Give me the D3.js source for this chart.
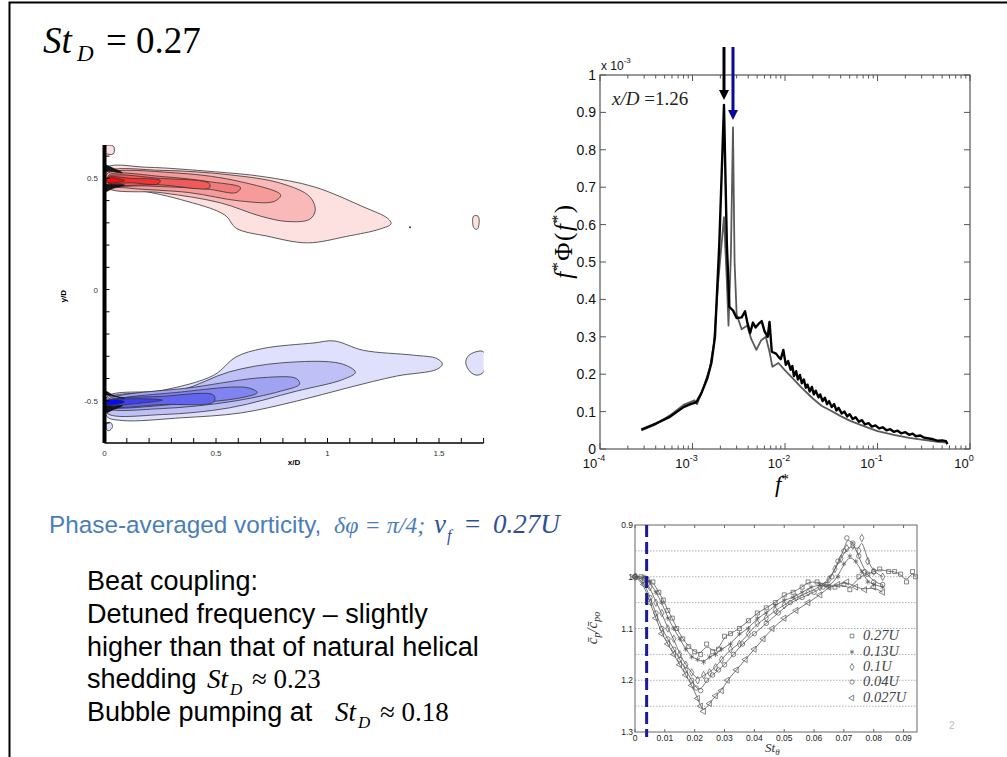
<!DOCTYPE html>
<html>
<head>
<meta charset="utf-8">
<script src="https://cdn.jsdelivr.net/npm/d3@7"></script>
<style>
body { margin: 0; background: #fff; }
svg { display: block; }
</style>
</head>
<body>
<svg id="slide" width="1007" height="757"></svg>
<script>
// ---------- dati: contorni di vorticità (x/D, y/D) ----------
const redLevels = [
  [[0.01,0.548],[0.19,0.55],[0.49,0.53],[0.71,0.508],[0.94,0.462],[1.16,0.372],[1.27,0.32],[1.285,0.296],[1.235,0.272],[1.09,0.24],[0.91,0.21],[0.73,0.24],[0.59,0.276],[0.54,0.335],[0.34,0.405],[0.11,0.455],[0.01,0.47]],
  [[0.01,0.528],[0.26,0.536],[0.56,0.516],[0.79,0.478],[0.92,0.418],[0.945,0.356],[0.92,0.316],[0.82,0.306],[0.70,0.33],[0.52,0.39],[0.26,0.435],[0.01,0.46]],
  [[0.01,0.52],[0.34,0.523],[0.61,0.485],[0.79,0.425],[0.76,0.396],[0.61,0.398],[0.38,0.436],[0.11,0.456],[0.01,0.472]],
  [[0.02,0.515],[0.26,0.508],[0.47,0.485],[0.61,0.458],[0.59,0.436],[0.46,0.452],[0.19,0.466],[0.02,0.474]],
  [[0.02,0.508],[0.25,0.5],[0.47,0.477],[0.47,0.457],[0.25,0.471],[0.02,0.478]],
  [[0.02,0.504],[0.12,0.5],[0.25,0.49],[0.24,0.475],[0.12,0.48],[0.02,0.481]],
  [[0.01,0.502],[0.06,0.499],[0.09,0.49],[0.06,0.482],[0.01,0.483]]
];
const blueLevels = [
  [[0.01,-0.483],[0.26,-0.453],[0.49,-0.385],[0.59,-0.303],[0.71,-0.265],[0.94,-0.24],[1.03,-0.231],[1.16,-0.273],[1.385,-0.295],[1.49,-0.31],[1.515,-0.335],[1.49,-0.359],[1.31,-0.389],[1.09,-0.442],[0.86,-0.502],[0.61,-0.555],[0.34,-0.577],[0.08,-0.589],[0.01,-0.57]],
  [[0.01,-0.49],[0.34,-0.453],[0.56,-0.37],[0.79,-0.33],[1.06,-0.333],[1.125,-0.372],[1.07,-0.404],[0.86,-0.457],[0.56,-0.532],[0.26,-0.562],[0.01,-0.555]],
  [[0.01,-0.498],[0.41,-0.438],[0.71,-0.396],[0.86,-0.4],[0.875,-0.425],[0.79,-0.457],[0.56,-0.505],[0.26,-0.535],[0.01,-0.532]],
  [[0.01,-0.507],[0.34,-0.461],[0.64,-0.441],[0.685,-0.463],[0.61,-0.487],[0.34,-0.514],[0.01,-0.526]],
  [[0.01,-0.502],[0.26,-0.48],[0.49,-0.475],[0.49,-0.505],[0.26,-0.517],[0.01,-0.524]],
  [[0.01,-0.502],[0.12,-0.491],[0.26,-0.497],[0.12,-0.515],[0.01,-0.521]],
  [[0.01,-0.502],[0.06,-0.495],[0.09,-0.505],[0.06,-0.516],[0.01,-0.517]]
];
const redColors = ["#fde0e0", "#f9b9b9", "#f69a9a", "#f37a7a", "#f05a5a", "#f53232", "#ff0808"];
const blueColors = ["#dfe0fb", "#bfc1f6", "#a0a2f2", "#8183f0", "#6265ee", "#3e41f2", "#0808ff"];
// piccole isole
const redIslands = [[[1.655,0.33],[1.675,0.33],[1.68,0.3],[1.67,0.27],[1.655,0.28]], [[0.0,0.645],[0.04,0.645],[0.04,0.61],[0.0,0.615]]];
const blueIslands = [[[1.7,-0.28],[1.665,-0.28],[1.63,-0.3],[1.62,-0.33],[1.64,-0.37],[1.67,-0.385],[1.7,-0.37]], [[0.01,-0.6],[0.03,-0.6],[0.035,-0.62],[0.02,-0.635],[0.01,-0.63]]];
const darkRoots = [
  [[0,0.56],[0.04,0.545],[0.08,0.525],[0.04,0.53],[0,0.535]],
  [[0,0.47],[0.04,0.472],[0.09,0.47],[0.04,0.455],[0,0.44]],
  [[0,-0.47],[0.04,-0.48],[0.09,-0.49],[0.04,-0.475],[0,-0.455]],
  [[0,-0.525],[0.04,-0.525],[0.08,-0.522],[0.04,-0.54],[0,-0.555]]
];
const contourXTicks = [0, 0.5, 1, 1.5];
const contourYTicks = [0.5, 0, -0.5];

// ---------- dati: spettro ----------
const specBlackF = [2.8e-4,4e-4,5.7e-4,8e-4,9.5e-4,1.1e-3,1.25e-3,1.45e-3,1.6e-3,1.75e-3,1.95e-3,2.19e-3,2.35e-3,2.5e-3,2.75e-3,3.0e-3,3.4e-3,3.7e-3,3.9e-3,4.2e-3,4.5e-3,4.8e-3,5.2e-3,5.6e-3,6.0e-3,6.5e-3,6.8e-3,7.2e-3,8e-3,8.6e-3,9e-3,9.6e-3,1.02e-2,1.08e-2,1.15e-2,1.2e-2,1.25e-2,1.32e-2,1.38e-2,1.45e-2,1.52e-2,1.6e-2,1.68e-2,1.75e-2,1.85e-2,1.95e-2,2.05e-2,2.15e-2,2.3e-2,2.4e-2,2.55e-2,2.7e-2,2.85e-2,3.0e-2,3.2e-2,3.4e-2,3.6e-2,3.8e-2,4.1e-2,4.4e-2,4.7e-2,5e-2,5.4e-2,5.8e-2,6.3e-2,6.8e-2,7.3e-2,8e-2,8.7e-2,9.5e-2,0.104,0.114,0.125,0.137,0.15,0.165,0.18,0.2,0.22,0.24,0.26,0.29,0.32,0.36,0.4,0.45,0.5,0.55,0.57];
const specBlackV = [0.052,0.068,0.086,0.112,0.12,0.125,0.15,0.19,0.23,0.30,0.55,0.92,0.55,0.38,0.37,0.35,0.352,0.368,0.34,0.31,0.338,0.325,0.335,0.342,0.315,0.30,0.34,0.26,0.255,0.245,0.24,0.265,0.225,0.235,0.212,0.222,0.195,0.208,0.186,0.198,0.176,0.186,0.164,0.172,0.154,0.166,0.146,0.156,0.138,0.146,0.128,0.137,0.12,0.128,0.112,0.12,0.103,0.11,0.095,0.1,0.087,0.093,0.08,0.085,0.073,0.077,0.066,0.069,0.06,0.063,0.055,0.058,0.05,0.053,0.046,0.049,0.042,0.045,0.038,0.041,0.034,0.036,0.03,0.028,0.026,0.022,0.023,0.021,0.013];
const specGreyF = [2.8e-4,4e-4,5.7e-4,8e-4,1.05e-3,1.12e-3,1.3e-3,1.55e-3,1.7e-3,1.9e-3,2.19e-3,2.35e-3,2.45e-3,2.6e-3,2.74e-3,2.85e-3,3.0e-3,3.4e-3,3.9e-3,4.3e-3,4.9e-3,5.5e-3,6.2e-3,6.8e-3,7.3e-3,8.5e-3,1e-2,1.2e-2,1.5e-2,2e-2,2.5e-2,3e-2,4e-2,5e-2,7e-2,0.1,0.15,0.22,0.3,0.45,0.57];
const specGreyV = [0.05,0.066,0.09,0.118,0.13,0.12,0.16,0.22,0.28,0.45,0.62,0.45,0.33,0.52,0.86,0.50,0.36,0.32,0.33,0.295,0.265,0.29,0.30,0.26,0.22,0.23,0.21,0.19,0.165,0.135,0.115,0.105,0.088,0.076,0.062,0.048,0.038,0.03,0.025,0.019,0.017];
const specYTicks = [0,0.1,0.2,0.3,0.4,0.5,0.6,0.7,0.8,0.9,1];
const specXExp = [-4,-3,-2,-1,0];
const arrowF = [2.19e-3, 2.74e-3];
const arrowTip = [0.933, 0.88];
const arrowColors = ["#000000", "#0a0a9a"];

// ---------- dati: cp/cpo contro St_theta ----------
const seriesNames = ["0.27U", "0.13U", "0.1U", "0.04U", "0.027U"];
const s027 = [[0,1.0],[0.002,1.0],[0.004,1.005],[0.006,1.01],[0.008,1.03],[0.0095,1.045],[0.011,1.065],[0.0125,1.08],[0.014,1.1],[0.016,1.12],[0.018,1.135],[0.02,1.145],[0.022,1.15],[0.024,1.13],[0.026,1.145],[0.028,1.14],[0.03,1.115],[0.032,1.11],[0.035,1.1],[0.038,1.085],[0.041,1.07],[0.044,1.06],[0.047,1.05],[0.05,1.035],[0.053,1.03],[0.056,1.02],[0.058,1.01],[0.061,1.01],[0.064,1.015],[0.067,1.02],[0.07,1.015],[0.072,1.025],[0.075,1.0],[0.078,0.995],[0.08,0.99],[0.082,0.985],[0.085,0.99],[0.087,0.99],[0.089,0.995],[0.091,1.01],[0.093,0.99],[0.094,1.0]];
const s013 = [[0,1.0],[0.003,1.0],[0.005,1.01],[0.007,1.03],[0.009,1.05],[0.011,1.08],[0.013,1.1],[0.015,1.12],[0.017,1.14],[0.019,1.155],[0.021,1.16],[0.023,1.165],[0.025,1.155],[0.027,1.15],[0.029,1.14],[0.032,1.13],[0.035,1.11],[0.038,1.1],[0.041,1.08],[0.044,1.07],[0.047,1.055],[0.05,1.045],[0.053,1.04],[0.056,1.03],[0.059,1.02],[0.062,1.015],[0.065,1.02],[0.068,1.0],[0.07,0.975],[0.072,0.96],[0.074,0.97],[0.076,0.99],[0.078,1.01],[0.08,1.015],[0.083,1.02]];
const s010 = [[0,1.0],[0.003,1.005],[0.005,1.02],[0.007,1.05],[0.009,1.07],[0.011,1.1],[0.013,1.12],[0.015,1.15],[0.017,1.17],[0.019,1.185],[0.021,1.2],[0.023,1.19],[0.025,1.185],[0.027,1.175],[0.029,1.16],[0.032,1.14],[0.035,1.13],[0.038,1.11],[0.041,1.09],[0.044,1.08],[0.047,1.065],[0.05,1.055],[0.054,1.04],[0.058,1.03],[0.062,1.02],[0.065,1.005],[0.067,0.985],[0.069,0.965],[0.071,0.945],[0.073,0.94],[0.075,0.95],[0.076,0.925],[0.078,0.97],[0.08,0.99],[0.083,1.0]];
const s004 = [[0,1.0],[0.003,1.01],[0.005,1.04],[0.007,1.07],[0.009,1.1],[0.011,1.12],[0.013,1.14],[0.015,1.16],[0.017,1.18],[0.019,1.2],[0.0205,1.215],[0.022,1.22],[0.024,1.2],[0.026,1.19],[0.028,1.18],[0.03,1.17],[0.033,1.15],[0.036,1.13],[0.04,1.11],[0.044,1.09],[0.048,1.07],[0.052,1.05],[0.056,1.04],[0.06,1.03],[0.063,1.02],[0.066,1.0],[0.068,0.97],[0.07,0.95],[0.071,0.925],[0.073,0.935],[0.075,0.96],[0.077,0.99],[0.08,1.01],[0.083,1.015]];
const s0027 = [[0,1.0],[0.003,1.015],[0.005,1.05],[0.007,1.08],[0.009,1.11],[0.011,1.13],[0.013,1.15],[0.015,1.17],[0.017,1.19],[0.019,1.21],[0.021,1.235],[0.022,1.25],[0.023,1.26],[0.025,1.245],[0.027,1.23],[0.029,1.22],[0.031,1.2],[0.034,1.18],[0.037,1.16],[0.04,1.14],[0.043,1.12],[0.046,1.1],[0.05,1.08],[0.054,1.065],[0.058,1.05],[0.062,1.035],[0.065,1.02],[0.068,1.015],[0.071,1.01],[0.074,1.02],[0.077,1.025],[0.08,1.02],[0.083,1.03]];
const cpXTicks = [0,0.01,0.02,0.03,0.04,0.05,0.06,0.07,0.08,0.09];
const cpYTicks = [0.9,1,1.1,1.2,1.3];
const cpGrid = [0.95,1.0,1.05,1.1,1.15,1.2,1.25];
const bubbleSt = 0.0039;

const SANS = "Liberation Sans, Arial, sans-serif";
const SERIF = "Liberation Serif, Times New Roman, serif";

const svg = d3.select("#slide");
svg.append("rect").attr("width", 1007).attr("height", 757).attr("fill", "#fff");

// cornice della slide
svg.append("path").attr("d", "M9.5,757 V2.5 H1007").attr("fill", "none")
  .attr("stroke", "#000").attr("stroke-width", 2);

// ---------- titolo ----------
svg.append("text").attr("x", 43).attr("y", 53).attr("font-family", SERIF)
  .attr("font-size", 37).attr("font-style", "italic").text("St");
svg.append("text").attr("x", 77).attr("y", 61).attr("font-family", SERIF)
  .attr("font-size", 23).attr("font-style", "italic").text("D");
svg.append("text").attr("x", 106).attr("y", 53).attr("font-family", SERIF)
  .attr("font-size", 37).text("= 0.27");

// ---------- contorni ----------
const cx = d3.scaleLinear().domain([0, 1.7]).range([104.5, 483.6]);
const cy = d3.scaleLinear().domain([-0.69, 0.65]).range([443, 145]);
svg.append("clipPath").attr("id", "cclip").append("rect")
  .attr("x", cx(0)).attr("y", cy(0.65)).attr("width", cx(1.7) - cx(0)).attr("height", cy(-0.69) - cy(0.65));
const cg = svg.append("g").attr("clip-path", "url(#cclip)");
const closedLine = d3.line().x(d => cx(d[0])).y(d => cy(d[1])).curve(d3.curveCatmullRomClosed.alpha(0.5));

cg.selectAll(".red").data(redLevels).enter().append("path")
  .attr("d", closedLine).attr("fill", (d, i) => redColors[i]).attr("stroke", "#333").attr("stroke-width", 0.8);
cg.selectAll(".blue").data(blueLevels).enter().append("path")
  .attr("d", closedLine).attr("fill", (d, i) => blueColors[i]).attr("stroke", "#333").attr("stroke-width", 0.8);
cg.selectAll(".ri").data(redIslands).enter().append("path")
  .attr("d", closedLine).attr("fill", redColors[0]).attr("stroke", "#333").attr("stroke-width", 0.8);
cg.selectAll(".bi").data(blueIslands).enter().append("path")
  .attr("d", closedLine).attr("fill", blueColors[0]).attr("stroke", "#333").attr("stroke-width", 0.8);
cg.selectAll(".dk").data(darkRoots).enter().append("path")
  .attr("d", closedLine).attr("fill", "#151515").attr("stroke", "#111").attr("stroke-width", 0.6);
cg.append("circle").attr("cx", cx(1.37)).attr("cy", cy(0.28)).attr("r", 1).attr("fill", "#333");

// assi dei contorni
svg.append("line").attr("x1", cx(0)).attr("x2", cx(0)).attr("y1", cy(0.65)).attr("y2", cy(-0.69))
  .attr("stroke", "#000").attr("stroke-width", 4);
svg.append("line").attr("x1", cx(0)).attr("x2", cx(1.7)).attr("y1", cy(-0.69)).attr("y2", cy(-0.69))
  .attr("stroke", "#000").attr("stroke-width", 1.5);
svg.append("g").selectAll("line").data(d3.range(0, 17.5, 1)).enter().append("line")
  .attr("x1", d => cx(d / 10)).attr("x2", d => cx(d / 10))
  .attr("y1", cy(-0.69)).attr("y2", cy(-0.69) - 5).attr("stroke", "#000").attr("stroke-width", 1);
svg.append("g").selectAll("line").data(d3.range(-6, 7, 1)).enter().append("line")
  .attr("x1", cx(0)).attr("x2", cx(0) + 5).attr("y1", d => cy(d / 10)).attr("y2", d => cy(d / 10))
  .attr("stroke", "#000").attr("stroke-width", 1);
svg.append("g").selectAll("text").data(contourXTicks).enter().append("text")
  .attr("x", d => cx(d)).attr("y", 456).attr("text-anchor", "middle")
  .attr("font-family", SANS).attr("font-size", 8).attr("fill", "#333").text(d => d);
svg.append("g").selectAll("text").data(contourYTicks).enter().append("text")
  .attr("x", 98).attr("y", d => cy(d) + 3).attr("text-anchor", "end")
  .attr("font-family", SANS).attr("font-size", 8).attr("fill", "#333").text(d => d);
svg.append("text").attr("x", cx(0.85)).attr("y", 465).attr("text-anchor", "middle")
  .attr("font-family", SANS).attr("font-size", 8).attr("font-weight", "bold").text("x/D");
svg.append("text").attr("transform", `translate(66,${cy(-0.03)}) rotate(-90)`).attr("text-anchor", "middle")
  .attr("font-family", SANS).attr("font-size", 8).attr("font-weight", "bold").text("y/D");

// ---------- spettro ----------
const sx = d3.scaleLog().domain([1e-4, 1]).range([600, 970]);
const sy = d3.scaleLinear().domain([0, 1]).range([449, 75]);
const sg = svg.append("g");

const specLine = d3.line().x(d => sx(d[0])).y(d => sy(d[1]));
sg.append("path").datum(d3.zip(specGreyF, specGreyV)).attr("d", specLine)
  .attr("fill", "none").attr("stroke", "#5a5a5a").attr("stroke-width", 1.8).attr("stroke-linejoin", "round");
sg.append("path").datum(d3.zip(specBlackF, specBlackV)).attr("d", specLine)
  .attr("fill", "none").attr("stroke", "#000").attr("stroke-width", 2.4).attr("stroke-linejoin", "round");

sg.append("rect").attr("x", sx(1e-4)).attr("y", sy(1)).attr("width", sx(1) - sx(1e-4)).attr("height", sy(0) - sy(1))
  .attr("fill", "none").attr("stroke", "#555").attr("stroke-width", 1.2);

// tacche log
const minorF = [];
[-4, -3, -2, -1].forEach(k => { for (let m = 2; m <= 9; m++) minorF.push(m * Math.pow(10, k)); });
const majorF = specXExp.map(e => Math.pow(10, e));
[[minorF, 3.5], [majorF, 6]].forEach(([arr, len]) => {
  sg.append("g").selectAll("line").data(arr).enter().append("line")
    .attr("x1", d => sx(d)).attr("x2", d => sx(d)).attr("y1", sy(0)).attr("y2", sy(0) - len)
    .attr("stroke", "#555");
  sg.append("g").selectAll("line").data(arr).enter().append("line")
    .attr("x1", d => sx(d)).attr("x2", d => sx(d)).attr("y1", sy(1)).attr("y2", sy(1) + len)
    .attr("stroke", "#555");
});
sg.append("g").selectAll("line").data(specYTicks).enter().append("line")
  .attr("x1", sx(1e-4)).attr("x2", sx(1e-4) + 6).attr("y1", d => sy(d)).attr("y2", d => sy(d)).attr("stroke", "#555");
sg.append("g").selectAll("line").data(specYTicks).enter().append("line")
  .attr("x1", sx(1)).attr("x2", sx(1) - 6).attr("y1", d => sy(d)).attr("y2", d => sy(d)).attr("stroke", "#555");

sg.append("g").selectAll("text").data(specYTicks).enter().append("text")
  .attr("x", 596).attr("y", d => sy(d) + 5).attr("text-anchor", "end")
  .attr("font-family", SANS).attr("font-size", 14).attr("fill", "#111").text(d => d);
const xt = sg.append("g").selectAll("text").data(specXExp).enter().append("text")
  .attr("x", d => sx(Math.pow(10, d)) - 6).attr("y", 468)
  .attr("font-family", SANS).attr("font-size", 13).attr("fill", "#111").attr("text-anchor", "middle");
xt.append("tspan").text("10");
xt.append("tspan").attr("dy", -7).attr("font-size", 9).text(d => d === 0 ? "0" : "-" + Math.abs(d));
const ex = sg.append("text").attr("x", 601).attr("y", 70).attr("font-family", SANS).attr("font-size", 12).attr("fill", "#111");
ex.append("tspan").text("x 10");
ex.append("tspan").attr("dy", -7).attr("font-size", 8).text("-3");

const ann = sg.append("text").attr("x", 612).attr("y", 105).attr("font-family", SERIF)
  .attr("font-size", 19).attr("fill", "#222");
ann.append("tspan").attr("font-style", "italic").text("x/D");
ann.append("tspan").text(" =1.26");

const xl = sg.append("text").attr("x", 775).attr("y", 492).attr("font-family", SERIF)
  .attr("font-style", "italic").attr("font-size", 23);
xl.append("tspan").text("f");
xl.append("tspan").attr("dy", -8).attr("font-size", 15).attr("font-style", "normal").text("*");
const yl = sg.append("text").attr("transform", "translate(572,241) rotate(-90)").attr("text-anchor", "middle")
  .attr("font-family", SERIF).attr("font-style", "italic").attr("font-size", 25).attr("letter-spacing", 1.5);
yl.append("tspan").text("f");
yl.append("tspan").attr("dy", -9).attr("font-size", 16).attr("font-style", "normal").text("*");
yl.append("tspan").attr("dy", 9).attr("font-style", "normal").text("Φ(");
yl.append("tspan").text("f");
yl.append("tspan").attr("dy", -9).attr("font-size", 16).attr("font-style", "normal").text("*");
yl.append("tspan").attr("dy", 9).attr("font-style", "normal").text(")");

// frecce
arrowF.forEach((f, i) => {
  const x = sx(f), tip = sy(arrowTip[i]);
  sg.append("line").attr("x1", x).attr("x2", x).attr("y1", 47).attr("y2", tip - 8)
    .attr("stroke", arrowColors[i]).attr("stroke-width", 3);
  sg.append("path").attr("d", `M${x - 5},${tip - 10} L${x + 5},${tip - 10} L${x},${tip} Z`).attr("fill", arrowColors[i]);
});

// ---------- testi ----------
const blue = "#4a7ebb";
const navy = "#2f4f95";
svg.append("text").attr("x", 49).attr("y", 533).attr("font-family", SANS).attr("font-size", 24.3)
  .attr("fill", blue).text("Phase-averaged vorticity,");
svg.append("text").attr("x", 334).attr("y", 533).attr("font-family", SERIF).attr("font-size", 24)
  .attr("font-style", "italic").attr("fill", blue).text("δφ = π/4;");
svg.append("text").attr("x", 434).attr("y", 533).attr("font-family", SERIF).attr("font-size", 27)
  .attr("font-style", "italic").attr("fill", navy).text("v");
svg.append("text").attr("x", 447).attr("y", 541).attr("font-family", SERIF).attr("font-size", 16)
  .attr("font-style", "italic").attr("fill", navy).text("f");
svg.append("text").attr("x", 465).attr("y", 533).attr("font-family", SERIF).attr("font-size", 27)
  .attr("fill", navy).text("=");
svg.append("text").attr("x", 493).attr("y", 533).attr("font-family", SERIF).attr("font-size", 27)
  .attr("font-style", "italic").attr("fill", navy).text("0.27U");

const bodyLines = ["Beat coupling:", "Detuned frequency – slightly", "higher than that of natural helical", "shedding", "Bubble pumping at"];
const bodyY = [590, 623, 656, 688, 721];
svg.append("g").selectAll("text").data(bodyLines).enter().append("text")
  .attr("x", 87).attr("y", (d, i) => bodyY[i]).attr("font-family", SANS).attr("font-size", 27)
  .attr("fill", "#000").text(d => d);
const mathRows = [{ x: 207, y: 688, v: "≈ 0.23" }, { x: 335, y: 721, v: "≈ 0.18" }];
mathRows.forEach(r => {
  svg.append("text").attr("x", r.x).attr("y", r.y).attr("font-family", SERIF).attr("font-size", 27)
    .attr("font-style", "italic").text("St");
  svg.append("text").attr("x", r.x + 23).attr("y", r.y + 7).attr("font-family", SERIF).attr("font-size", 17)
    .attr("font-style", "italic").text("D");
  svg.append("text").attr("x", r.x + 45).attr("y", r.y).attr("font-family", SERIF).attr("font-size", 27).text(r.v);
});

// ---------- grafico cp ----------
const px = d3.scaleLinear().domain([0, 0.0945]).range([635, 917]);
const py = d3.scaleLinear().domain([0.9, 1.3]).range([525, 732]);
const pg = svg.append("g");
pg.append("g").selectAll("line").data(cpGrid).enter().append("line")
  .attr("x1", px(0)).attr("x2", px(0.0945)).attr("y1", d => py(d)).attr("y2", d => py(d))
  .attr("stroke", "#9a9a9a").attr("stroke-width", 0.8).attr("stroke-dasharray", "1.5,1.5");

const seriesData = [s027, s013, s010, s004, s0027];
const ast = d3.symbolAsterisk || d3.symbolCross;
const seriesSymbols = [d3.symbolSquare, ast, d3.symbolDiamond, d3.symbolCircle, d3.symbolTriangle];
const seriesRot = [0, 0, 0, 0, -90];
const fitLine = d3.line().x(d => px(d[0])).y(d => py(d[1])).curve(d3.curveBasis);
seriesData.forEach((s, i) => {
  pg.append("path").datum(s).attr("d", fitLine).attr("fill", "none").attr("stroke", "#555").attr("stroke-width", 0.8);
  const sym = d3.symbol().type(seriesSymbols[i]).size(i === 1 ? 18 : 16);
  pg.append("g").selectAll("path").data(s).enter().append("path")
    .attr("transform", d => `translate(${px(d[0])},${py(d[1])}) rotate(${seriesRot[i]})`)
    .attr("d", sym).attr("fill", "none").attr("stroke", "#555").attr("stroke-width", 0.7);
});

pg.append("rect").attr("x", px(0)).attr("y", py(0.9)).attr("width", px(0.0945) - px(0)).attr("height", py(1.3) - py(0.9))
  .attr("fill", "none").attr("stroke", "#666").attr("stroke-width", 1);
pg.append("g").selectAll("line").data(cpXTicks).enter().append("line")
  .attr("x1", d => px(d)).attr("x2", d => px(d)).attr("y1", py(1.3)).attr("y2", py(1.3) - 3).attr("stroke", "#666");
pg.append("g").selectAll("line").data(cpXTicks).enter().append("line")
  .attr("x1", d => px(d)).attr("x2", d => px(d)).attr("y1", py(0.9)).attr("y2", py(0.9) + 3).attr("stroke", "#666");
pg.append("g").selectAll("text").data(cpXTicks).enter().append("text")
  .attr("x", d => px(d)).attr("y", 741).attr("text-anchor", "middle")
  .attr("font-family", SANS).attr("font-size", 8.5).attr("fill", "#222").text(d => d);
pg.append("g").selectAll("text").data(cpYTicks).enter().append("text")
  .attr("x", 633).attr("y", d => py(d) + 3).attr("text-anchor", "end")
  .attr("font-family", SANS).attr("font-size", 8.5).attr("fill", "#222").text(d => d);

// linea tratteggiata: pompaggio della bolla
pg.append("line").attr("x1", px(bubbleSt)).attr("x2", px(bubbleSt)).attr("y1", py(0.9)).attr("y2", 737)
  .attr("stroke", "#1a1aa0").attr("stroke-width", 3).attr("stroke-dasharray", "12,5");

// legenda
const legY = [640, 656, 671, 686, 702];
seriesNames.forEach((n, i) => {
  const sym = d3.symbol().type(seriesSymbols[i]).size(14);
  pg.append("path").attr("transform", `translate(852,${legY[i] - 4}) rotate(${seriesRot[i]})`)
    .attr("d", sym).attr("fill", "none").attr("stroke", "#555").attr("stroke-width", 0.7);
  pg.append("text").attr("x", 863).attr("y", legY[i]).attr("font-family", SERIF).attr("font-style", "italic")
    .attr("font-size", 14.5).attr("fill", "#444").text(n);
});

const cyl = pg.append("text").attr("transform", "translate(597,628) rotate(-90)").attr("text-anchor", "middle")
  .attr("font-family", SERIF).attr("font-style", "italic").attr("font-size", 15).attr("fill", "#333");
cyl.append("tspan").text("c̄");
cyl.append("tspan").attr("dy", 3).attr("font-size", 10).text("p");
cyl.append("tspan").attr("dy", -3).text("/c̄");
cyl.append("tspan").attr("dy", 3).attr("font-size", 10).text("po");
const cxl = pg.append("text").attr("x", 765).attr("y", 752).attr("font-family", SERIF)
  .attr("font-style", "italic").attr("font-size", 13).attr("fill", "#333");
cxl.append("tspan").text("St");
cxl.append("tspan").attr("dy", 3).attr("font-size", 9).text("θ");

svg.append("text").attr("x", 949).attr("y", 729).attr("font-family", SANS).attr("font-size", 10)
  .attr("fill", "#bbb").text("2");
</script>
</body>
</html>
